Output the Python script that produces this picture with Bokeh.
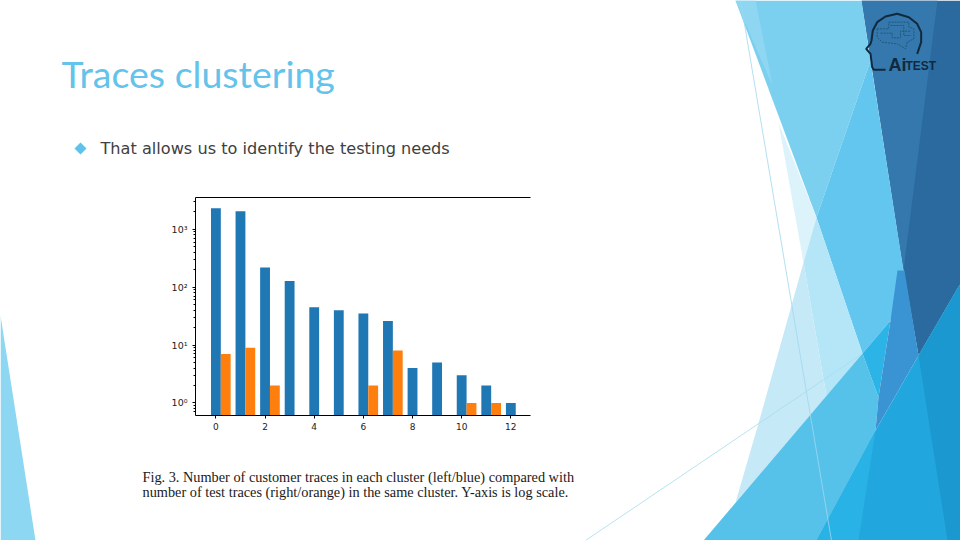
from bokeh.embed import file_html
from bokeh.resources import INLINE
from bokeh.plotting import figure
from bokeh.core.properties import value
from bokeh.models import Range1d, FixedTicker, LinearAxis, ColumnDataSource

# ---- chart data -------------------------------------------------------
clusters = [0, 1, 2, 3, 4, 5, 6, 7, 8, 9, 10, 11, 12]
customer_traces = [2300, 2050, 217, 128, 45, 40, 35, 26, 4, 5, 3, 2, 1]
test_clusters = [0, 1, 2, 6, 7, 10, 11]
test_traces = [7, 9, 2, 2, 8, 1, 1]
x_tick_values = [0, 2, 4, 6, 8, 10, 12]
y_tick_labels = {1: "10⁰", 10: "10¹", 100: "10²", 1000: "10³"}

title_text = "Traces clustering"
bullet_text = "That allows us to identify the testing needs"
caption_1 = "Fig. 3.  Number of customer traces in each cluster (left/blue) compared with"
caption_2 = "number of test traces (right/orange) in the same cluster. Y-axis is log scale."

# ---- page geometry ----------------------------------------------------
W, H = 960, 540
BX, BY, BW, BH = 150, 190, 385, 250   # chart box on the slide
FL, FR, FT, FB = 195, 530, 197, 415   # chart frame on the slide
Y_MIN, Y_MAX = 0.606, 3527
BAR = 0.4

# ---- slide (background figure, pixel coordinates) ---------------------
bg = figure(width=W, height=H, output_backend="svg", toolbar_location=None,
            x_range=Range1d(0, W), y_range=Range1d(H, 0),
            x_axis_location=None, y_axis_location=None,
            min_border_left=0, min_border_right=0, min_border_top=0, min_border_bottom=0,
            margin=0, background_fill_color="white", border_fill_color="white")
bg.outline_line_color = None
bg.grid.visible = False


def poly(points, fill):
    bg.patch([a for a, _ in points], [b for _, b in points], fill_color=fill, line_color=None)


def label(x, y, text, size, color, font, style="normal"):
    bg.text([x], [y], text=[text], text_font=value(font), text_font_size=value(size),
            text_color=color, text_font_style=style, text_baseline="middle")


poly([(0, 315), (35, 540), (0, 540)], "#8DD7F3")
poly([(861, 0), (960, 0), (960, 283), (918, 355), (903, 270)], "#2A6A9E")
poly([(861, 0), (937, 0), (903, 270)], "#3478AD")
poly([(735, 0), (861, 0), (870, 60), (816, 217)], "#7BD0F0")
poly([(735, 0), (755, 0), (772, 85)], "#8FD6F2")
poly([(870, 60), (903, 270), (890, 320), (862, 353), (816, 217)], "#63C6EE")
poly([(778, 122), (816, 217), (803, 262)], "#DCF3FB")
poly([(816, 217), (862, 353), (826, 396), (803, 262)], "#B5E6F8")
poly([(803, 262), (826, 396), (735, 502), (758, 423)], "#C5E9F7")
poly([(862, 353), (878, 397), (875, 430), (816, 540), (703, 540)], "#56C2EA")
poly([(862, 353), (890, 320), (878, 397)], "#2DB4E6")
poly([(890, 320), (897, 270), (904, 270), (918, 355), (875, 430), (878, 397)], "#3A93D2")
poly([(918, 355), (960, 283), (960, 540), (816, 540), (875, 430)], "#22A6DE")
poly([(875, 430), (858, 540), (816, 540)], "#29B2E5")
poly([(918, 355), (960, 283), (960, 540), (947, 540)], "#1B98CF")
bg.line([740, 831], [0, 540], line_color="#9FD8EE", line_width=0.8)
bg.line([585, 862], [540, 353], line_color="#A5DCEF", line_width=0.8)

# logo
head = [(650, 160), (662, 125), (662, 95), (650, 70), (625, 50), (590, 40), (555, 48), (530, 65),
        (517, 90), (513, 120), (510, 130), (497, 145), (510, 160), (515, 200), (520, 208), (555, 208)]
bg.line([700 + a / 3 for a, _ in head], [b / 3 for _, b in head], line_color="#10293D", line_width=2)
brain = [(530, 85), (565, 85), (565, 65), (625, 65), (625, 80), (640, 85), (640, 115), (620, 125),
         (615, 145), (590, 130), (545, 125), (530, 110), (530, 85)]
bg.line([700 + a / 3 for a, _ in brain], [b / 3 for _, b in brain], line_color="#1E5573",
        line_width=0.9, line_dash="2 1")
brain_a = [(540, 98), (575, 98), (575, 112), (600, 112), (600, 92), (630, 92)]
bg.line([700 + a / 3 for a, _ in brain_a], [b / 3 for _, b in brain_a], line_color="#1E5573",
        line_width=0.9, line_dash="2 1")
brain_b = [(570, 75), (610, 75), (610, 105), (632, 105)]
bg.line([700 + a / 3 for a, _ in brain_b], [b / 3 for _, b in brain_b], line_color="#1E5573",
        line_width=0.9, line_dash="2 1")
label(888, 64.5, "Ai", "18px", "#10293D", "Liberation Sans", "bold")
label(905, 65.5, "TEST", "12px", "#10293D", "Liberation Sans", "bold")

# slide texts
label(61, 72.5, title_text, "37.5px", "#63C3EA", "Lato")
poly([(80, 142), (86, 148), (80, 154), (74, 148)], "#5DC2EC")
label(100, 148, bullet_text, "16.15px", "#404040", "DejaVu Sans")
label(142, 476, caption_1, "14.3px", "#1A1A1A", "Liberation Serif")
label(142, 491, caption_2, "14.3px", "#1A1A1A", "Liberation Serif")

# ---- chart figure, laid over the slide --------------------------------
p = figure(width=BW, height=BH, output_backend="svg", toolbar_location=None,
           y_axis_type="log",
           x_range=Range1d(-0.83, 12.8), y_range=Range1d(Y_MIN, Y_MAX),
           min_border_left=FL - BX, min_border_right=BX + BW - FR,
           min_border_top=FT - BY, min_border_bottom=BY + BH - FB,
           background_fill_color="white", border_fill_color="white",
           margin=(BY - H, 0, 0, BX))
p.outline_line_color = None
p.grid.visible = False

blue = ColumnDataSource(dict(x=clusters, top=customer_traces))
orange = ColumnDataSource(dict(x=[c + BAR for c in test_clusters], top=test_traces))
p.vbar(x="x", top="top", bottom=Y_MIN, width=BAR, source=blue, color="#1f77b4", line_color=None)
p.vbar(x="x", top="top", bottom=Y_MIN, width=BAR, source=orange, color="#ff7f0e", line_color=None)

xa = p.xaxis[0]
xa.ticker = FixedTicker(ticks=x_tick_values)
xa.minor_tick_line_color = None
xa.major_tick_in = 0
xa.major_tick_out = 3
xa.major_label_standoff = 4
xa.major_label_text_font = "DejaVu Sans"
xa.major_label_text_font_size = "9px"
xa.major_label_text_color = "#222222"

ya = p.yaxis[0]
ya.major_label_overrides = y_tick_labels
ya.major_tick_in = 0
ya.major_tick_out = 3
ya.minor_tick_in = 0
ya.minor_tick_out = 2
ya.major_label_standoff = 5
ya.major_label_text_font = "DejaVu Sans"
ya.major_label_text_font_size = "9.5px"
ya.major_label_text_color = "#222222"

top = LinearAxis(major_tick_line_color=None, minor_tick_line_color=None,
                 major_label_text_font_size="0px", axis_line_color="black")
top.ticker = FixedTicker(ticks=[])
p.add_layout(top, "above")

open("out.html", "w").write(file_html([bg, p], INLINE))
